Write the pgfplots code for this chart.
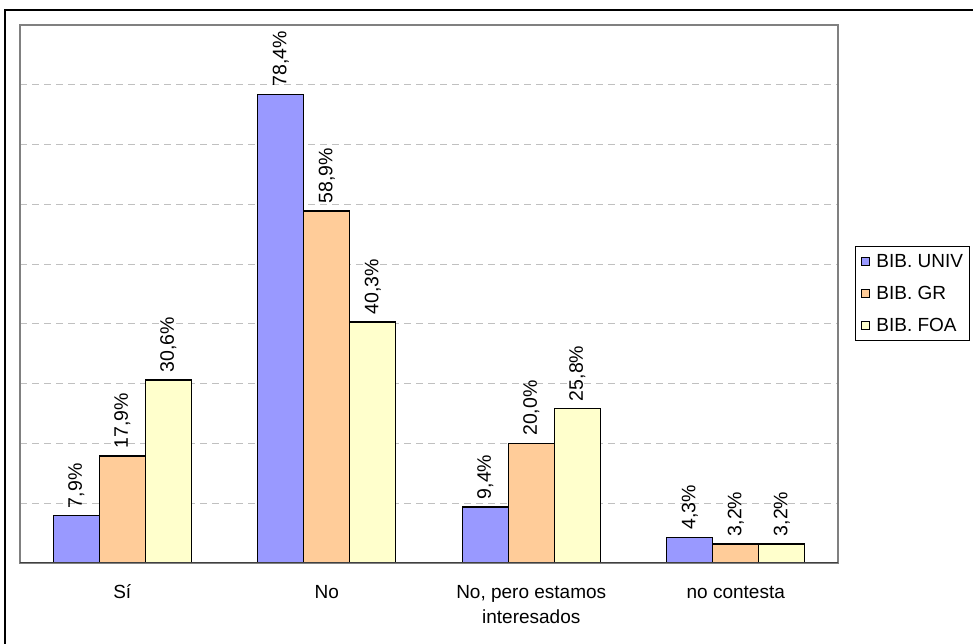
\documentclass[border=0pt]{standalone}
\usepackage{pgfplots}
\pgfplotsset{compat=1.18}
\usepackage{fontspec}
\setmainfont{Liberation Sans}
\definecolor{cUniv}{HTML}{9999FF}
\definecolor{cGr}{HTML}{FFCC99}
\definecolor{cFoa}{HTML}{FFFFCC}
\definecolor{gridc}{HTML}{C0C0C0}
\begin{document}
\begin{tikzpicture}
\useasboundingbox (0,0) rectangle (973bp,644bp);
\draw[black, line width=1.5bp] (5bp,0bp) -- (5bp,634bp) -- (973bp,634bp);
\begin{axis}[
  at={(20bp,81bp)}, anchor=south west,
  scale only axis, width=818bp, height=538bp,
  ybar=0pt, bar width=46bp,
  xmin=-0.5, xmax=3.5, ymin=0, ymax=90,
  axis line style={draw=gray, line width=1.2bp},
  xtick={0,1,2,3},
  xticklabels={{\strut Sí}, {\strut No}, {\strut No, pero estamos\\interesados}, {\strut no contesta}},
  xticklabel style={align=center, font=\fontsize{19bp}{25bp}\selectfont, yshift=-10bp},
  x tick style={draw=none},
  xtick pos=bottom,
  extra x ticks={-0.5,0.5,1.5,2.5,3.5},
  extra x tick labels={},
  extra x tick style={grid=none, tick align=outside, major tick length=7bp, tick style={draw=black, line width=1bp}},
  ytick={10,20,...,80},
  yticklabels={},
  y tick style={draw=none},
  ymajorgrids,
  grid style={draw=gridc, line width=1bp, dash pattern=on 7bp off 5bp},
  /pgf/number format/assume math mode=true,
  nodes near coords={\pgfmathprintnumber[fixed,fixed zerofill,precision=1,use comma]{\pgfplotspointmeta}\%},
  every node near coord/.append style={font=\fontsize{19.5bp}{23bp}\selectfont, rotate=90, anchor=west, inner xsep=7bp, inner ysep=0bp, color=black},
  legend image code/.code={\draw[#1, draw=black, line width=0.9bp] (0bp,-4bp) rectangle (8bp,4bp);},
  legend cell align=left,
  legend style={at={(rel axis cs:1.0208,0.589)}, anchor=north west, draw=black, line width=1bp,
    font=\fontsize{19bp}{23bp}\selectfont, row sep=13bp, inner xsep=5bp, inner ysep=6bp,
    /tikz/every odd column/.append style={column sep=5bp}},
]
\addplot[fill=cUniv, draw=black, line width=1.4bp] coordinates {(0,7.9) (1,78.4) (2,9.4) (3,4.3)};
\addplot[fill=cGr, draw=black, line width=1.4bp] coordinates {(0,17.9) (1,58.9) (2,20.0) (3,3.2)};
\addplot[fill=cFoa, draw=black, line width=1.4bp] coordinates {(0,30.6) (1,40.3) (2,25.8) (3,3.2)};
\legend{BIB. UNIV, BIB. GR, BIB. FOA}
\draw[draw=black!75, line width=1.5bp] (rel axis cs:0,0) -- (rel axis cs:1,0);
\end{axis}
\end{tikzpicture}
\end{document}
